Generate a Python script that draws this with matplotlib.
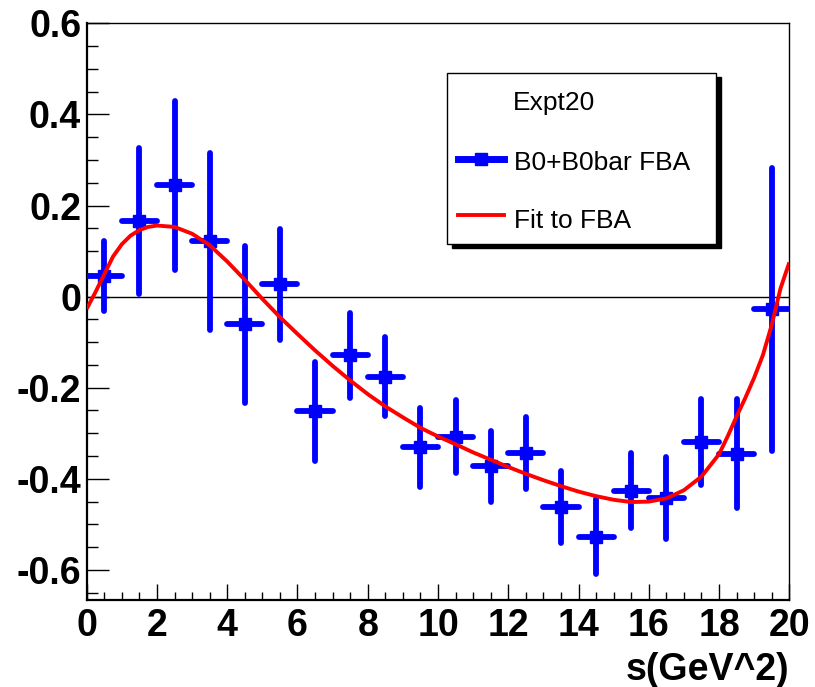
import numpy as np
import matplotlib
matplotlib.use("Agg")
import matplotlib.pyplot as plt
from matplotlib.patches import Rectangle
from matplotlib.lines import Line2D
from matplotlib.ticker import MultipleLocator, FixedLocator, FixedFormatter

# data
s_bins = [0.5, 1.5, 2.5, 3.5, 4.5, 5.5, 6.5, 7.5, 8.5, 9.5,
          10.5, 11.5, 12.5, 13.5, 14.5, 15.5, 16.5, 17.5, 18.5, 19.5]
fba = [0.046, 0.166, 0.244, 0.121, -0.061, 0.027, -0.252, -0.129, -0.176, -0.331,
       -0.308, -0.372, -0.344, -0.462, -0.527, -0.426, -0.442, -0.319, -0.345, -0.028]
fba_err = [0.077, 0.160, 0.185, 0.195, 0.172, 0.122, 0.109, 0.094, 0.087, 0.086,
           0.080, 0.078, 0.079, 0.079, 0.082, 0.082, 0.090, 0.094, 0.120, 0.310]
bin_half = [0.5] * 20

fit_s = [0, 0.25, 0.5, 0.75, 1, 1.25, 1.5, 1.75, 2, 2.5, 3, 3.5, 4, 4.5, 5, 5.5, 6,
         6.5, 7, 7.5, 8, 8.5, 9, 9.5, 10, 10.5, 11, 11.5, 12, 12.5, 13, 13.5, 14,
         14.5, 15, 15.5, 16, 16.5, 17, 17.5, 18, 18.25, 18.5, 18.75, 19, 19.25,
         19.5, 19.75, 20]
fit_fba = [-0.027, 0.010, 0.049, 0.088, 0.115, 0.134, 0.146, 0.153, 0.156, 0.153,
           0.138, 0.113, 0.077, 0.037, -0.005, -0.045, -0.082, -0.118, -0.152,
           -0.184, -0.214, -0.241, -0.265, -0.288, -0.307, -0.324, -0.342, -0.358,
           -0.374, -0.389, -0.403, -0.416, -0.428, -0.438, -0.446, -0.451, -0.450,
           -0.443, -0.425, -0.395, -0.346, -0.306, -0.263, -0.222, -0.178, -0.128,
           -0.062, 0.018, 0.075]

ytick_vals = [-0.6, -0.4, -0.2, 0, 0.2, 0.4, 0.6]
ytick_labels = ["-0.6", "-0.4", "-0.2", "0", "0.2", "0.4", "0.6"]
xtick_vals = [0, 2, 4, 6, 8, 10, 12, 14, 16, 18, 20]
xtick_labels = ["0", "2", "4", "6", "8", "10", "12", "14", "16", "18", "20"]

legend_labels = ["Expt20", "B0+B0bar FBA", "Fit to FBA"]

W, H = 815, 687
plt.rcParams['font.family'] = ['Liberation Sans', 'DejaVu Sans']

fig = plt.figure(figsize=(W / 100, H / 100), dpi=100)
ax = fig.add_axes([86.7 / W, 1 - 600 / H, 702.6 / W, 576.7 / H])

def fx(px):
    return px / W

def fy(py):
    return 1 - py / H

# zero line
ax.axhline(0, color="black", lw=1.0, zorder=1)

# data with error bars
eb = ax.errorbar(s_bins, fba, yerr=fba_err, xerr=bin_half, fmt="s", color="blue",
                 ecolor="blue", elinewidth=4.2, markersize=8, capsize=0, zorder=3)
for c in eb[2]:
    c.set_capstyle("round")

# fit curve
ax.plot(fit_s, fit_fba, color="red", lw=2.8, zorder=4, solid_capstyle="butt",
        solid_joinstyle="round")

ax.set_xlim(0, 20)
ax.set_ylim(-0.666, 0.6)

ax.xaxis.set_major_locator(FixedLocator(xtick_vals))
ax.xaxis.set_major_formatter(FixedFormatter(xtick_labels))
ax.xaxis.set_minor_locator(MultipleLocator(0.5))
ax.yaxis.set_major_locator(FixedLocator(ytick_vals))
ax.yaxis.set_major_formatter(FixedFormatter(ytick_labels))
ax.yaxis.set_minor_locator(MultipleLocator(0.05))

ax.tick_params(axis="both", which="both", direction="in", top=False, right=False,
               width=1.0, color="black")
ax.tick_params(axis="y", which="major", length=16, pad=4)
ax.tick_params(axis="y", which="minor", length=8)
ax.tick_params(axis="x", which="major", length=11.5, pad=6)
ax.tick_params(axis="x", which="minor", length=5.8)
for lab in ax.get_xticklabels() + ax.get_yticklabels():
    lab.set_fontsize(27)
    lab.set_fontweight("bold")

for side in ["left", "bottom"]:
    ax.spines[side].set_linewidth(1.6)
for side in ["top", "right"]:
    ax.spines[side].set_linewidth(1.0)

fig.text(fx(789), fy(680), "s(GeV^2)", ha="right", va="baseline",
         fontsize=27, fontweight="bold")

# legend box with shadow
bx0, bx1, by0, by1 = 447, 715.7, 73, 244
fig.patches.append(Rectangle((fx(bx0 + 5), fy(by1 + 4.5)), (bx1 - bx0) / W,
                             (by1 - by0) / H, transform=fig.transFigure,
                             facecolor="black", edgecolor="black", zorder=5))
fig.patches.append(Rectangle((fx(bx0), fy(by1)), (bx1 - bx0) / W, (by1 - by0) / H,
                             transform=fig.transFigure, facecolor="white",
                             edgecolor="black", lw=1.0, zorder=6))

fig.text(fx(513), fy(110), legend_labels[0], fontsize=19, va="baseline", zorder=7)
fig.text(fx(514), fy(170), legend_labels[1], fontsize=19, va="baseline", zorder=7)
fig.text(fx(514), fy(228), legend_labels[2], fontsize=19, va="baseline", zorder=7)

fig.lines.append(Line2D([fx(458), fx(504)], [fy(159), fy(159)], transform=fig.transFigure,
                        color="blue", lw=5, zorder=7))
fig.lines.append(Line2D([fx(481)], [fy(159)], transform=fig.transFigure, color="blue",
                        marker="s", markersize=8, zorder=7))
fig.lines.append(Line2D([fx(458), fx(504)], [fy(215.5), fy(215.5)], transform=fig.transFigure,
                        color="red", lw=2.8, zorder=7))

fig.savefig("out.png", dpi=100)
